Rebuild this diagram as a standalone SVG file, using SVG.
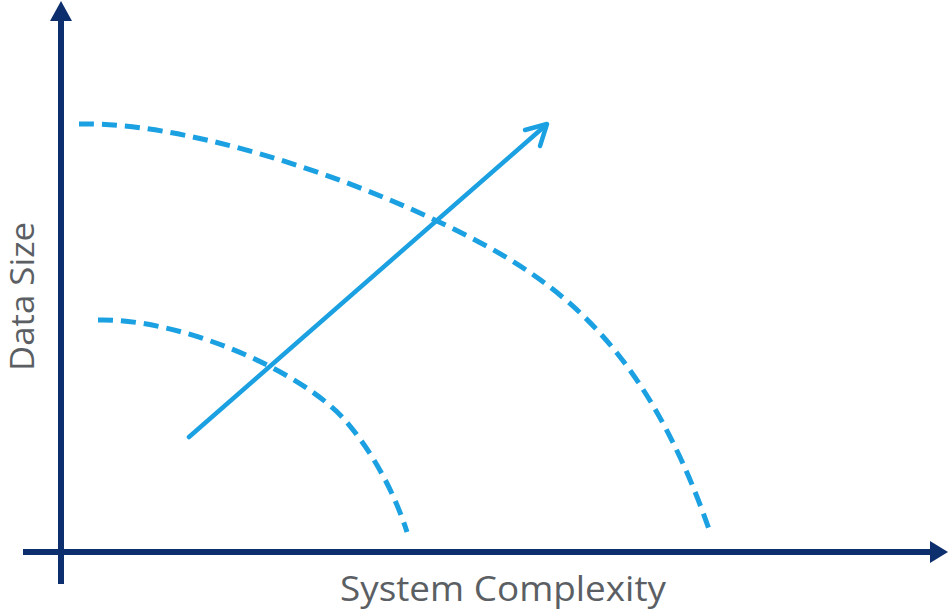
<svg xmlns="http://www.w3.org/2000/svg" width="949" height="610" viewBox="0 0 949 610">
<style>
.axis{stroke:#0d2f6e;stroke-width:6;fill:none}
.head{fill:#0d2f6e}
.dash{stroke:#1ba1e2;stroke-width:5;fill:none;stroke-dasharray:15 8}
.trend{stroke:#1ba1e2;stroke-width:4.5;fill:none;stroke-linecap:round;stroke-linejoin:round}
.lbl{font-family:"Open Sans","Noto Sans",sans-serif;font-size:35px;fill:#5b5f64}
</style>
<rect width="949" height="610" fill="#ffffff"/>
<g id="axes">
<line class="axis" x1="61" y1="584" x2="61" y2="16"/>
<polygon class="head" points="61,1 72,21 50,21"/>
<line class="axis" x1="23" y1="552" x2="934" y2="552"/>
<polygon class="head" points="948,552 930,541 930,563"/>
</g>
<g id="curve-outer">
<path class="dash" d="M79,124 C180,122 330,170 437,221 C544,272 640,330 710,532"/>
</g>
<g id="curve-inner">
<path class="dash" d="M98,320 C180,318 300,370 345,420 C375,455 395,495 407,532"/>
</g>
<g id="connectors">
<path class="trend" d="M189,437 L546,125"/>
<path class="trend" d="M525,130 L547,124 L540,146"/>
</g>
<g id="label-x">
<text class="lbl" x="340" y="601" textLength="326" lengthAdjust="spacingAndGlyphs">System Complexity</text>
</g>
<g id="label-y">
<text class="lbl" style="font-size:32px" transform="translate(34,371) rotate(-90)" x="0" y="0" textLength="149" lengthAdjust="spacingAndGlyphs">Data Size</text>
</g>
</svg>
